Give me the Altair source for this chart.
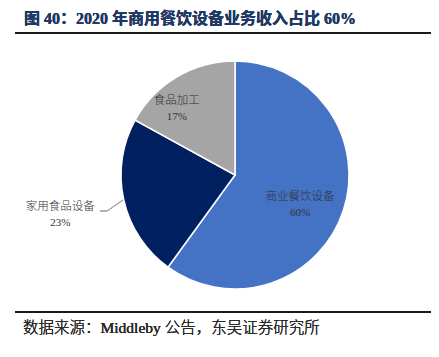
import altair as alt
import pandas as pd

categories = ["商业餐饮设备", "家用食品设备", "食品加工"]
shares = [60, 23, 17]
pct_labels = ["60%", "23%", "17%"]
order = [0, 1, 2]
colors = ["#4472C4", "#002060", "#A5A5A5"]

title_text = "图 40：2020 年商用餐饮设备业务收入占比 60%"
source_text = "数据来源：Middleby 公告，东吴证券研究所"

df = pd.DataFrame({"category": categories, "value": shares, "pct": pct_labels, "ord": order})

W, H = 423, 341
CX, CY, R = 227, 167, 114
FONT = "'Liberation Serif', 'Noto Sans CJK SC'"

base = alt.Chart(df)

pie = base.mark_arc(outerRadius=R, stroke="white", strokeWidth=1.5).encode(
    theta=alt.Theta("value:Q", stack=True),
    order=alt.Order("ord:Q"),
    color=alt.Color("category:N", scale=alt.Scale(domain=categories, range=colors), legend=None),
    x=alt.value(CX),
    y=alt.value(CY),
)

labels_base = base.transform_joinaggregate(
    total="sum(value)"
).transform_window(
    cum="sum(value)", sort=[alt.SortField("ord")], frame=[None, 0]
).transform_calculate(
    ang="2*PI*(datum.cum - datum.value/2)/datum.total + (datum.category == '食品加工' ? -0.18 : (datum.category == '商业餐饮设备' ? 0.1 : 0))",
    lr="datum.category == '家用食品设备' ? 179 : (datum.category == '食品加工' ? 89 : 71)",
).transform_calculate(
    lx=f"{CX} + datum.lr*sin(datum.ang)",
    ly=f"{CY} - datum.lr*cos(datum.ang)",
)

lab1 = labels_base.mark_text(font=FONT, fontSize=11.5, fontWeight=300, color="#333333", dy=-7).encode(
    x=alt.X("lx:Q", scale=None), y=alt.Y("ly:Q", scale=None), text="category:N"
)
lab2 = labels_base.mark_text(font=FONT, fontSize=11, color="#333333", dy=9).encode(
    x=alt.X("lx:Q", scale=None), y=alt.Y("ly:Q", scale=None), text="pct:N"
)

leader1 = alt.Chart(df).mark_rule(color="#A6A6A6", strokeWidth=1).encode(
    x=alt.value(92), x2=alt.value(99), y=alt.value(203), y2=alt.value(203)
)
leader2 = alt.Chart(df).mark_rule(color="#A6A6A6", strokeWidth=1).encode(
    x=alt.value(99), x2=alt.value(115), y=alt.value(203), y2=alt.value(192)
)

title = alt.Chart(df).mark_text(
    text=title_text, font=FONT, fontSize=16, fontWeight="bold", color="#1F3864", align="left", baseline="middle"
).encode(x=alt.value(16), y=alt.value(11))

rule_top = alt.Chart(df).mark_rule(color="#1a1a1a", strokeWidth=2).encode(
    x=alt.value(7), x2=alt.value(427), y=alt.value(25)
)
rule_bot = alt.Chart(df).mark_rule(color="#1a1a1a", strokeWidth=2).encode(
    x=alt.value(7), x2=alt.value(427), y=alt.value(304)
)
source = alt.Chart(df).mark_text(
    text=source_text, font=FONT, fontSize=15.5, fontWeight=300, color="#2a2a2a", align="left", baseline="middle"
).encode(x=alt.value(15), y=alt.value(320))

chart = alt.layer(pie, leader1, leader2, lab1, lab2, title, rule_top, rule_bot, source).properties(
    width=W, height=H, padding=0, autosize="none"
).configure_view(stroke=None)

chart.save("out.html", embed_options={"renderer": "svg", "actions": False})
